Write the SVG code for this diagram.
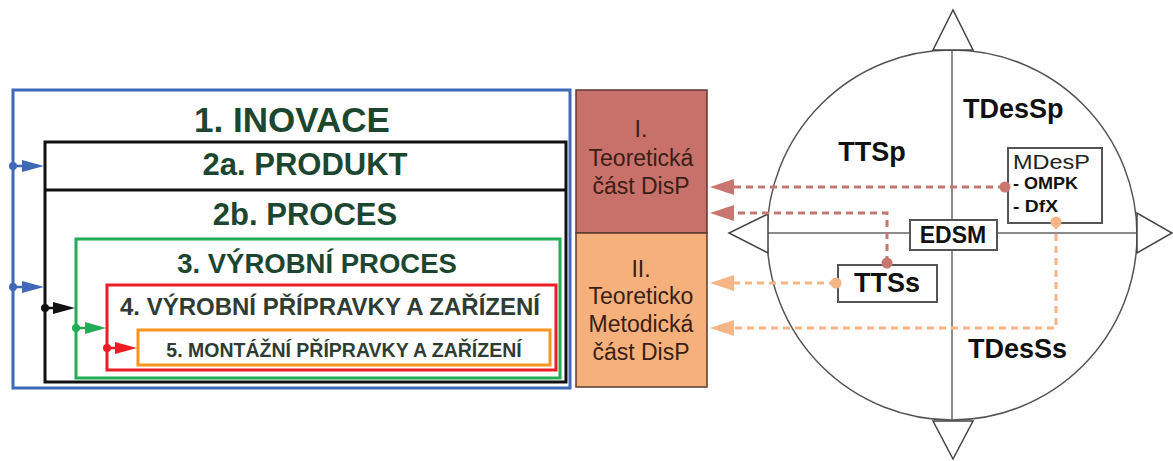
<svg xmlns="http://www.w3.org/2000/svg" width="1173" height="461" viewBox="0 0 1173 461">
  <defs>
    <style>
      .lvl { font-family: "Liberation Sans", Arial, sans-serif; font-weight: bold; text-anchor: middle; fill: #1d4630; }
      .lvl-s { font-family: "Liberation Sans", Arial, sans-serif; font-weight: bold; text-anchor: middle; fill: #2f3c34; }
      .part { font-family: "Liberation Sans", Arial, sans-serif; font-size: 23px; text-anchor: middle; fill: #3a1e16; }
      .lbl { font-family: "Liberation Sans", Arial, sans-serif; font-weight: bold; fill: #111111; }
      .box { fill: #ffffff; stroke: #555555; stroke-width: 2; }
      .dash-r { fill: none; stroke: #c97670; stroke-width: 3; stroke-dasharray: 7 5; }
      .dash-o { fill: none; stroke: #f6b586; stroke-width: 3; stroke-dasharray: 7 5; }
      .head-r { fill: #c97670; }
      .head-o { fill: #f6b586; }
      .axis { stroke: #666666; stroke-width: 1.5; fill: none; }
      .tri { fill: #ffffff; stroke: #444444; stroke-width: 1.5; }
    </style>
  </defs>

  <rect width="1173" height="461" fill="#ffffff"/>

  <!-- nested hierarchy of levels -->
  <g id="level-1">
    <rect x="13" y="90" width="557" height="298" fill="#ffffff" stroke="#3f69b8" stroke-width="3"/>
    <text class="lvl" x="292" y="132" font-size="35">1. INOVACE</text>
  </g>
  <g id="level-2">
    <rect x="45" y="142" width="521" height="240" fill="#ffffff" stroke="#111111" stroke-width="3"/>
    <line x1="45" y1="190" x2="566" y2="190" stroke="#111111" stroke-width="3"/>
    <text class="lvl" x="305" y="175" font-size="31">2a. PRODUKT</text>
    <text class="lvl" x="305" y="225" font-size="31">2b. PROCES</text>
  </g>
  <g id="level-3">
    <rect x="76" y="239" width="484" height="139" fill="#ffffff" stroke="#22ac55" stroke-width="3"/>
    <text class="lvl" x="317" y="273" font-size="27.5">3. VÝROBNÍ PROCES</text>
  </g>
  <g id="level-4">
    <rect x="107" y="285" width="449" height="85" fill="#ffffff" stroke="#ec1c24" stroke-width="3"/>
    <text class="lvl-s" x="330" y="315" font-size="24">4. VÝROBNÍ PŘÍPRAVKY A ZAŘÍZENÍ</text>
  </g>
  <g id="level-5">
    <rect x="138" y="330" width="412" height="35" fill="#ffffff" stroke="#f7941d" stroke-width="3"/>
    <text class="lvl-s" x="344" y="357" font-size="19.5">5. MONTÁŽNÍ PŘÍPRAVKY A ZAŘÍZENÍ</text>
  </g>

  <!-- thesis parts -->
  <g id="part-1">
    <rect x="576" y="90" width="131" height="143" fill="#c8706a" stroke="#5a3a30" stroke-width="1.5"/>
    <text class="part" x="641" y="137">I.</text>
    <text class="part" x="641" y="166">Teoretická</text>
    <text class="part" x="641" y="194">část DisP</text>
  </g>
  <g id="part-2">
    <rect x="576" y="233" width="131" height="154" fill="#f5b07c" stroke="#5a3a30" stroke-width="1.5"/>
    <text class="part" x="641" y="277">II.</text>
    <text class="part" x="641" y="304">Teoreticko</text>
    <text class="part" x="641" y="332">Metodická</text>
    <text class="part" x="641" y="360">část DisP</text>
  </g>

  <!-- design-science circle -->
  <g id="circle">
    <circle cx="952" cy="235" r="185" fill="#ffffff" stroke="#555555" stroke-width="1.5"/>
    <line class="axis" x1="952" y1="50" x2="952" y2="420"/>
    <line class="axis" x1="768" y1="233" x2="1137" y2="233"/>
    <polygon class="tri" points="933,50 973,50 953,10"/>
    <polygon class="tri" points="933,421 973,421 953,459"/>
    <polygon class="tri" points="768,214 768,253 729,233"/>
    <polygon class="tri" points="1137,213 1137,253 1172,233"/>
    <text class="lbl" x="872" y="161" font-size="27" text-anchor="middle">TTSp</text>
    <text class="lbl" x="963" y="118" font-size="27">TDesSp</text>
    <text class="lbl" x="968" y="358" font-size="27">TDesSs</text>
  </g>
  <g id="edsm">
    <rect class="box" x="910" y="220" width="87" height="30"/>
    <text class="lbl" x="953" y="243" font-size="23" text-anchor="middle">EDSM</text>
  </g>
  <g id="mdesp">
    <rect class="box" x="1008" y="148" width="94" height="75"/>
    <text x="1013" y="169" font-family="Liberation Sans, Arial, sans-serif" font-size="20" fill="#222222" textLength="77" lengthAdjust="spacingAndGlyphs">MDesP</text>
    <text class="lbl" x="1013" y="189" font-size="17" textLength="65" lengthAdjust="spacingAndGlyphs">- OMPK</text>
    <text class="lbl" x="1013" y="212" font-size="17" textLength="45" lengthAdjust="spacingAndGlyphs">- DfX</text>
  </g>
  <g id="ttss">
    <rect class="box" x="838" y="265" width="99" height="37"/>
    <text class="lbl" x="887" y="292" font-size="27" text-anchor="middle">TTSs</text>
  </g>

  <!-- connectors -->
  <g id="connectors">
    <!-- entry arrows into each nested level -->
    <g>
      <line x1="13" y1="166" x2="22" y2="166" stroke="#3f69b8" stroke-width="2.5"/>
      <polygon points="22,160 44,166 22,172" fill="#3f69b8"/>
      <circle cx="13" cy="166" r="4" fill="#3f69b8"/>
      <line x1="13" y1="287" x2="22" y2="287" stroke="#3f69b8" stroke-width="2.5"/>
      <polygon points="22,281 44,287 22,293" fill="#3f69b8"/>
      <circle cx="13" cy="287" r="4" fill="#3f69b8"/>
      <line x1="45" y1="308" x2="53" y2="308" stroke="#111111" stroke-width="2.5"/>
      <polygon points="53,302 75,308 53,314" fill="#111111"/>
      <circle cx="45" cy="308" r="4" fill="#111111"/>
      <line x1="76" y1="328" x2="85" y2="328" stroke="#22ac55" stroke-width="2.5"/>
      <polygon points="85,322 106,328 85,334" fill="#22ac55"/>
      <circle cx="76" cy="328" r="4" fill="#22ac55"/>
      <line x1="107" y1="348" x2="115" y2="348" stroke="#ec1c24" stroke-width="2.5"/>
      <polygon points="115,342 137,348 115,354" fill="#ec1c24"/>
      <circle cx="107" cy="348" r="4" fill="#ec1c24"/>
    </g>
    <!-- links from the circle to the thesis parts -->
    <path class="dash-r" d="M1005,187 H732"/>
    <polygon class="head-r" points="710,187 734,179 734,195"/>
    <path class="dash-r" d="M887,263 V213 H732"/>
    <polygon class="head-r" points="710,213 734,205 734,221"/>
    <path class="dash-o" d="M836,283 H732"/>
    <polygon class="head-o" points="710,283 734,275 734,291"/>
    <path class="dash-o" d="M1056,222 V328 H732"/>
    <polygon class="head-o" points="710,328 734,320 734,336"/>
    <circle cx="1005" cy="187" r="5.5" fill="#c97670"/>
    <circle cx="887" cy="263" r="5.5" fill="#c97670"/>
    <circle cx="836" cy="283" r="5.5" fill="#f6b586"/>
    <circle cx="1056" cy="222" r="5.5" fill="#f6b586"/>
  </g>
</svg>
